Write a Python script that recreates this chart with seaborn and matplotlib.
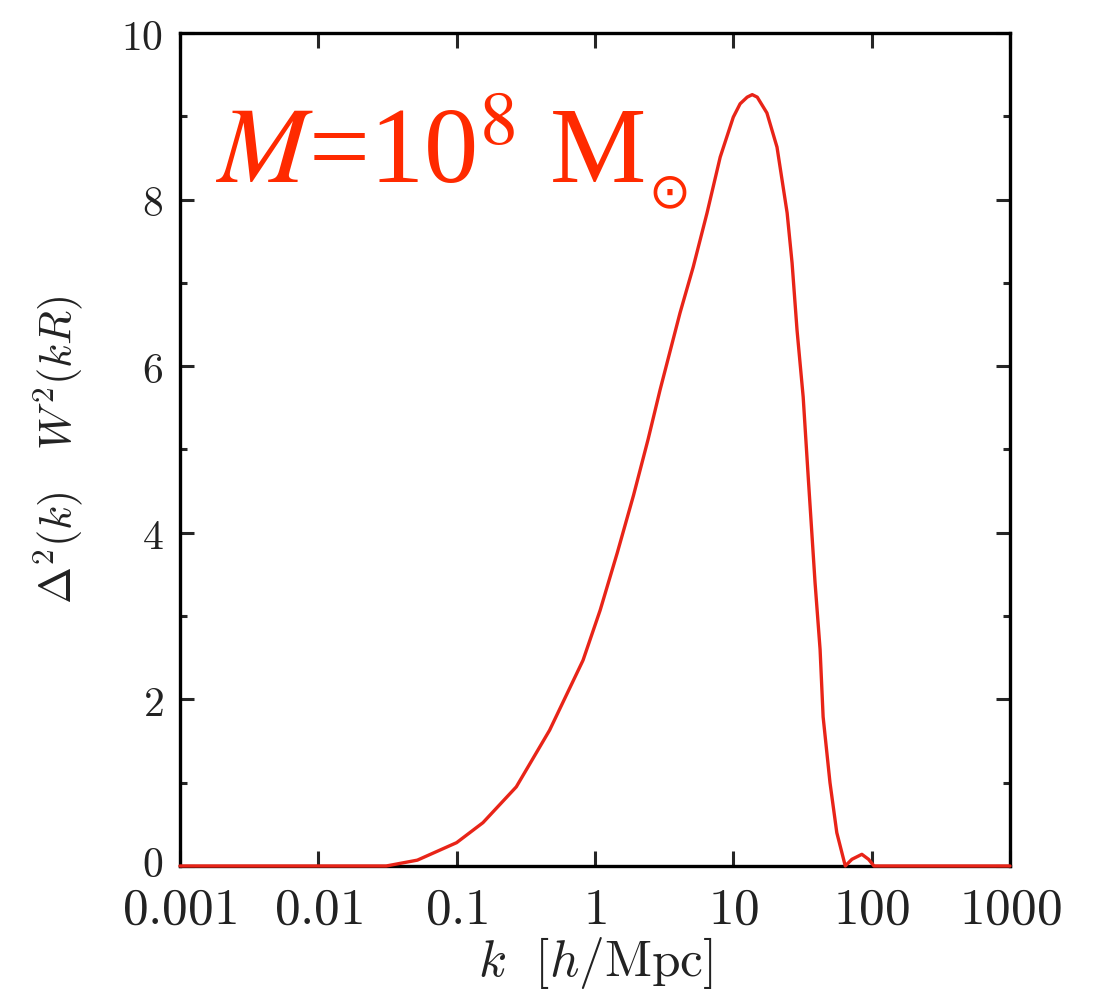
import numpy as np
import pandas as pd
import matplotlib
matplotlib.use("Agg")
import matplotlib.pyplot as plt
import matplotlib.transforms as mtransforms
import seaborn as sns
from matplotlib.ticker import FixedLocator, FixedFormatter, MultipleLocator

# ---- data ----
k_vals = [0.001, 0.01, 0.031, 0.052, 0.1, 0.155, 0.27, 0.47, 0.82, 1.09, 1.45,
          1.9, 2.42, 2.96, 4.12, 5.13, 6.46, 8.04, 10.0, 11.2, 12.6, 13.7, 14.9,
          17.5, 20.7, 24.5, 26.6, 28.9, 32.0, 34.8, 39.0, 42.4, 44.6, 50.0, 56.0,
          64.5, 72.0, 85.0, 95.0, 104.0, 1000.0]
power_vals = [0, 0, 0, 0.07, 0.28, 0.52, 0.95, 1.63, 2.47, 3.07, 3.76,
              4.45, 5.12, 5.72, 6.64, 7.19, 7.84, 8.51, 8.99, 9.15, 9.23, 9.26, 9.23,
              9.04, 8.63, 7.84, 7.24, 6.43, 5.63, 4.67, 3.4, 2.6, 1.79, 1.0, 0.4,
              0.0, 0.08, 0.14, 0.08, 0.0, 0.0]
x_ticks = [0.001, 0.01, 0.1, 1, 10, 100, 1000]
x_tick_labels = ["0.001", "0.01", "0.1", "1", "10", "100", "1000"]
y_ticks = [0, 2, 4, 6, 8, 10]
y_tick_labels = ["0", "2", "4", "6", "8", "10"]

df = pd.DataFrame({"k": k_vals, "p": power_vals})

sns.set_style("ticks")
plt.rcParams["font.family"] = ["DejaVu Serif", "DejaVu Sans"]
plt.rcParams["mathtext.fontset"] = "cm"

fig = plt.figure(figsize=(10.96, 9.94), dpi=100)
ax = fig.add_axes([0.1642, 0.1288, 0.7573, 0.838])

sns.lineplot(data=df, x="k", y="p", ax=ax, color="#e82418", linewidth=2.4)
for ln in ax.lines:
    ln.set_clip_on(False)
    ln.set_zorder(5)
    ln.set_solid_joinstyle("round")
ax.set_xscale("log")
ax.set_xlim(0.001, 1000)
ax.set_ylim(0, 10)

ax.xaxis.set_major_locator(FixedLocator(x_ticks))
ax.xaxis.set_major_formatter(FixedFormatter(["$" + s + "$" for s in x_tick_labels]))
ax.xaxis.set_minor_locator(FixedLocator([]))
ax.yaxis.set_major_locator(FixedLocator(y_ticks))
ax.yaxis.set_major_formatter(FixedFormatter(["$" + s + "$" for s in y_tick_labels]))
ax.yaxis.set_minor_locator(MultipleLocator(1))

for sp in ax.spines.values():
    sp.set_visible(True)
    sp.set_linewidth(2.4)
    sp.set_color("black")

ax.tick_params(axis="x", which="major", direction="in", length=11, width=2.2,
               top=True, bottom=True, labelsize=37, pad=14, labelcolor="#222222")
ax.tick_params(axis="y", which="major", direction="in", length=10, width=2.2,
               left=True, right=True, labelsize=30, pad=12, labelcolor="#222222")
ax.tick_params(axis="y", which="minor", direction="in", length=5, width=2.2,
               left=True, right=True)

# nudge the lowest y tick label slightly up so it clears "0.001"
fig.canvas.draw()
lbl0 = ax.yaxis.get_majorticklabels()[0]
lbl0.set_transform(lbl0.get_transform() +
                   mtransforms.ScaledTranslation(0, 4 / 72, fig.dpi_scale_trans))

ax.set_xlabel(r"$k\ \ [h/\mathrm{Mpc}]$", fontsize=37, color="#222222", labelpad=0)
ax.set_ylabel(r"$\Delta^2(k)\ \ \ W^2(kR)$", fontsize=32, color="#222222", labelpad=26)

main = ax.text(0.043, 0.82, r"$M$=10$^{8}$ M", transform=ax.transAxes,
               fontsize=78, color="#ff2a00", family="Liberation Serif",
               math_fontfamily="stix", va="baseline", ha="left")
ax.annotate("\u2299", xy=(1, 0), xycoords=main, xytext=(3, -8),
            textcoords="offset points", fontsize=36, color="#ff2a00",
            family="DejaVu Sans", va="bottom", ha="left")

fig.savefig("out.png", dpi=100, facecolor="white")
